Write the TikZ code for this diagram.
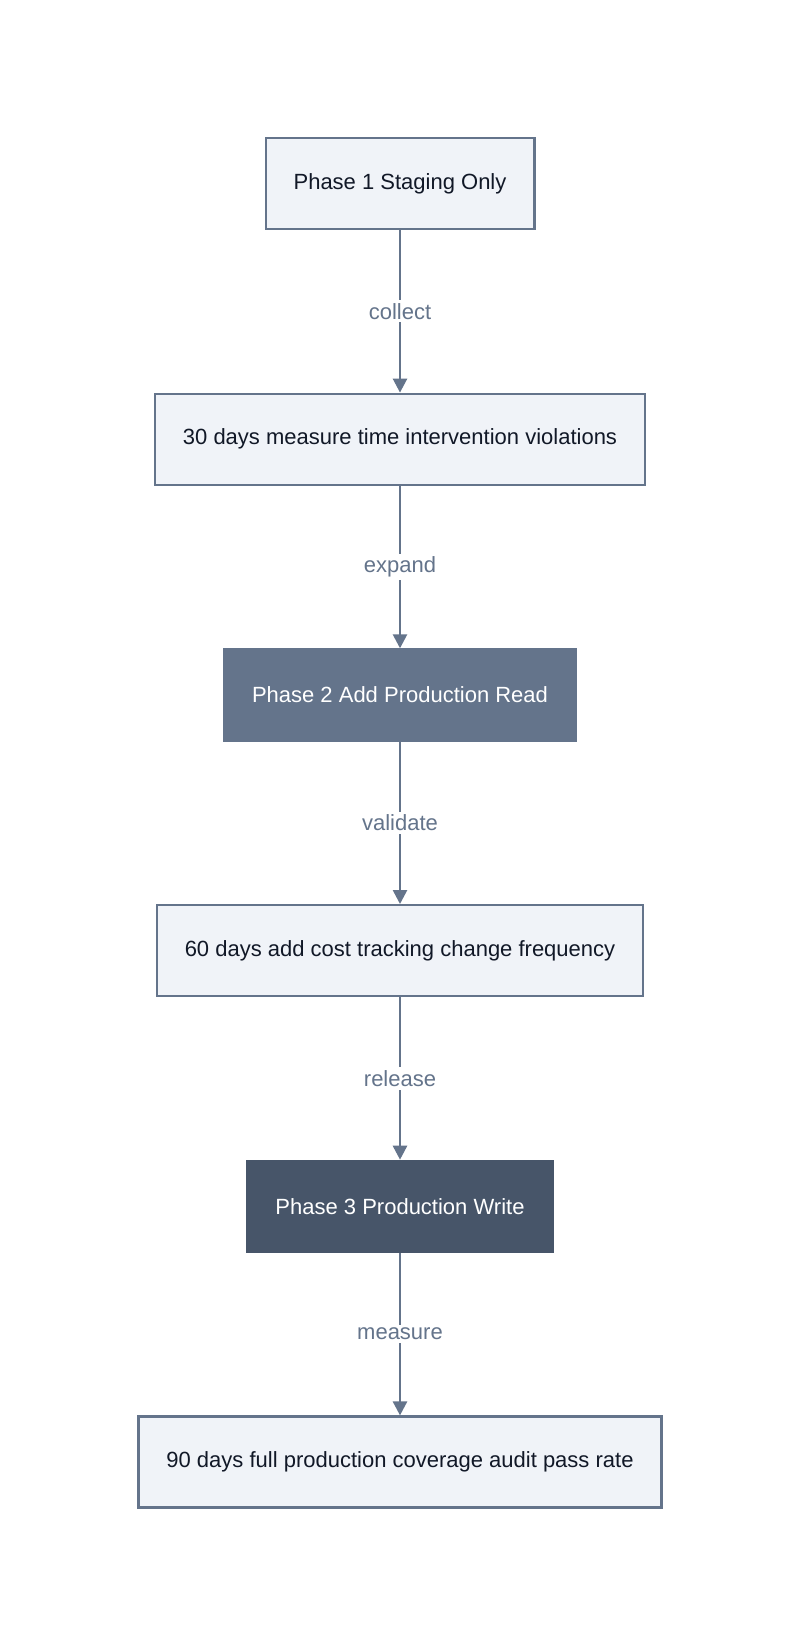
\documentclass[tikz,border=0pt]{standalone}
\usepackage{fontspec}
\setmainfont{Liberation Sans}
\usepackage{xcolor}
\usetikzlibrary{arrows.meta,positioning}

\definecolor{slateline}{HTML}{64748B}
\definecolor{slatefill}{HTML}{F0F3F8}
\definecolor{slatemid}{HTML}{64748B}
\definecolor{slatedark}{HTML}{475569}
\definecolor{inktext}{HTML}{111827}
\definecolor{labeltext}{HTML}{64748B}

\begin{document}
\begin{tikzpicture}[
  x=1pt,y=1pt,
  node distance=162.5pt,
  stage/.style={draw=slateline,line width=2.2pt,fill=slatefill,
    text=inktext,font=\fontsize{22}{26}\selectfont,
    minimum height=91pt,inner xsep=28pt},
  phasemid/.style={stage,fill=slatemid,draw=slatemid,text=white},
  phasedark/.style={stage,fill=slatedark,draw=slatedark,text=white},
  flow/.style={draw=slateline,line width=2.6pt,
    -{Triangle[length=14pt,width=14pt]}},
  flowlabel/.style={fill=white,text=labeltext,inner sep=3pt,
    font=\fontsize{22}{26}\selectfont}
]
\fill[white] (0,0) rectangle (800,-1645);

\node[stage] (p1) at (400,-183.5) {Phase 1 Staging Only};
\node[stage,below=of p1] (m30) {30 days measure time intervention violations};
\node[phasemid,below=of m30] (p2) {Phase 2 Add Production Read};
\node[stage,below=of p2] (m60) {60 days add cost tracking change frequency};
\node[phasedark,below=of m60] (p3) {Phase 3 Production Write};
\node[stage,below=of p3] (m90) {90 days full production coverage audit pass rate};

\draw[flow] (p1) -- node[flowlabel] {collect} (m30);
\draw[flow] (m30) -- node[flowlabel] {expand} (p2);
\draw[flow] (p2) -- node[flowlabel] {validate} (m60);
\draw[flow] (m60) -- node[flowlabel] {release} (p3);
\draw[flow] (p3) -- node[flowlabel] {measure} (m90);
\end{tikzpicture}
\end{document}
